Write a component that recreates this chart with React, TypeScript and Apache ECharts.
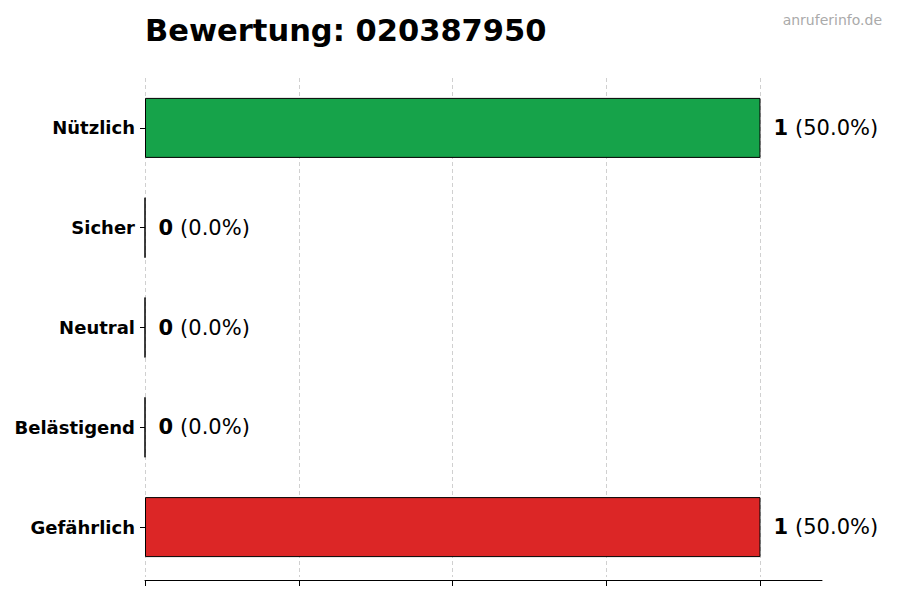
import { useEffect, useRef } from 'react';
import * as echarts from 'echarts';

const categories = ['Nützlich', 'Sicher', 'Neutral', 'Belästigend', 'Gefährlich'];
const counts = [1, 0, 0, 0, 1];
const barColors = ['#16a34a', '#2563eb', '#9ca3af', '#f59e0b', '#dc2626'];
const xTicks = [0, 0.25, 0.5, 0.75, 1];

const FONT = '"DejaVu Sans", sans-serif';

function buildOption(): echarts.EChartsOption {
  const total = counts.reduce((a, b) => a + b, 0);
  return {
    animation: false,
    textStyle: { fontFamily: FONT },
    title: [
      {
        text: 'Bewertung: 020387950',
        left: 140,
        top: 10,
        textStyle: { fontFamily: FONT, fontSize: 30.5, fontWeight: 'bold', color: '#000' }
      },
      {
        text: 'anruferinfo.de',
        right: 13,
        top: 8,
        textStyle: { fontFamily: FONT, fontSize: 14, fontWeight: 'normal', color: '#aaaaaa' }
      }
    ],
    grid: { left: 145, right: 78, top: 78, bottom: 23 },
    xAxis: {
      type: 'value',
      min: 0,
      max: 1.1,
      interval: 0.25,
      offset: 3,
      axisLine: { show: true, lineStyle: { color: '#000', width: 1 } },
      axisTick: { show: true, length: 6, customValues: xTicks, lineStyle: { color: '#000' } },
      axisLabel: { show: false },
      splitLine: { show: true, lineStyle: { color: '#d0d0d0', type: [4, 3], width: 1 } }
    },
    yAxis: {
      type: 'category',
      data: categories,
      inverse: true,
      axisLine: { show: false },
      axisTick: { show: true, length: 5, alignWithLabel: true, lineStyle: { color: '#000' } },
      axisLabel: {
        margin: 10,
        fontFamily: FONT,
        fontSize: 18,
        fontWeight: 'bold',
        color: '#000'
      },
      splitLine: { show: false }
    },
    series: [
      {
        type: 'bar',
        barWidth: 60,
        data: counts.map((v, i) => ({
          value: v,
          itemStyle: { color: barColors[i], borderColor: '#000', borderWidth: 1 }
        })),
        label: {
          show: true,
          position: 'right',
          distance: 13,
          formatter: (p: any) =>
            `{b|${p.value}}{n|(${((p.value / total) * 100).toFixed(1)}%)}`,
          rich: {
            b: { fontFamily: FONT, fontSize: 21, fontWeight: 'bold', color: '#000', padding: [0, 7, 0, 0] },
            n: { fontFamily: FONT, fontSize: 21, color: '#000' }
          }
        }
      }
    ]
  };
}

export default function App() {
  const ref = useRef<HTMLDivElement | null>(null);

  useEffect(() => {
    if (!ref.current) return;
    const chart = echarts.init(ref.current, undefined, { renderer: 'svg' });
    chart.setOption(buildOption());
    return () => chart.dispose();
  }, []);

  return (
    <div
      ref={ref}
      style={{ position: 'fixed', left: 0, top: 0, width: 900, height: 600, background: '#fff' }}
    />
  );
}
